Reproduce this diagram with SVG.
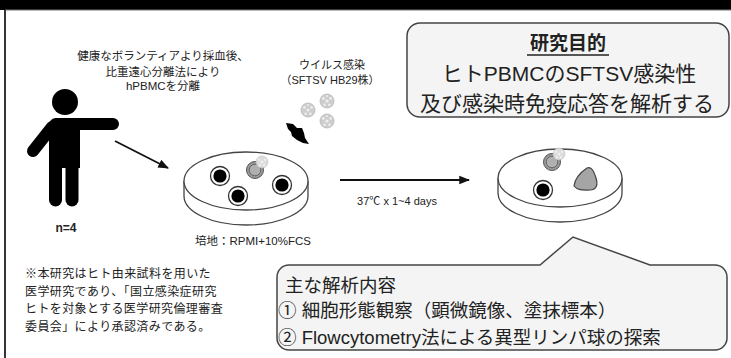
<svg xmlns="http://www.w3.org/2000/svg" width="731" height="358" viewBox="0 0 731 358">
  <style>
    .jp { font-family: "Liberation Sans", "Noto Sans CJK JP", sans-serif; fill: #222; }
    .sm { font-size: 11.5px; }
    .dish { fill: #ffffff; stroke: #444; stroke-width: 1.3; }
    .box { fill: #f4f4f4; stroke: #444; stroke-width: 1.5; }
    .conn { stroke: #111; stroke-width: 1.8; fill: none; }
  </style>
  <defs>
    <marker id="arrow" viewBox="0 0 10 10" refX="9" refY="5" markerWidth="6" markerHeight="6" orient="auto">
      <path d="M0,1 L10,5 L0,9 Z" fill="#111"/>
    </marker>
    <!-- virus particle -->
    <g id="virus">
      <circle r="7" fill="#cdcdcd" stroke="#b8b8b8" stroke-width="0.8"/>
      <circle r="1.6" fill="#eee"/>
      <circle cx="-3.6" cy="-2.6" r="1.3" fill="#eee"/>
      <circle cx="3.6" cy="-2.6" r="1.3" fill="#eee"/>
      <circle cx="-2.4" cy="3.8" r="1.3" fill="#eee"/>
      <circle cx="2.4" cy="3.8" r="1.3" fill="#eee"/>
      <circle cx="0" cy="-5" r="1" fill="#eee"/>
    </g>
    <!-- healthy lymphocyte -->
    <g id="cell">
      <circle r="9.5" fill="#fff" stroke="#333" stroke-width="1.3"/>
      <circle r="6.6" fill="#000"/>
    </g>
    <!-- infected cell with attached virus -->
    <g id="infected">
      <circle r="8.5" fill="#9a9a9a" stroke="#555" stroke-width="1"/>
      <circle r="5.8" fill="#b0b0b0" stroke="#666" stroke-width="1"/>
      <g transform="translate(7,-8) scale(0.85)">
        <circle r="7" fill="#dcdcdc" stroke="#c4c4c4" stroke-width="0.8"/>
        <circle r="1.6" fill="#f2f2f2"/>
        <circle cx="-3.6" cy="-2.6" r="1.3" fill="#f2f2f2"/>
        <circle cx="3.6" cy="-2.6" r="1.3" fill="#f2f2f2"/>
        <circle cx="-2.4" cy="3.8" r="1.3" fill="#f2f2f2"/>
        <circle cx="2.4" cy="3.8" r="1.3" fill="#f2f2f2"/>
      </g>
    </g>
  </defs>

  <rect width="731" height="358" fill="#ffffff"/>

  <!-- header band and frame -->
  <rect x="0" y="0" width="731" height="10" fill="#000"/>
  <line x1="5" y1="10" x2="731" y2="10" stroke="#777" stroke-width="1"/>
  <line x1="5" y1="10" x2="5" y2="358" stroke="#333" stroke-width="2"/>

  <!-- donor -->
  <g id="donor">
    <circle cx="65" cy="102" r="13" fill="#000"/>
    <path d="M56,118 H113 a6,6 0 0 1 0,12 H80 V168 H49 V125 a7,7 0 0 1 7,-7 Z" fill="#000"/>
    <line x1="52" y1="127" x2="33" y2="151" stroke="#000" stroke-width="12" stroke-linecap="round"/>
    <line x1="55.5" y1="160" x2="55.5" y2="200" stroke="#000" stroke-width="13" stroke-linecap="round"/>
    <line x1="72" y1="160" x2="72" y2="200" stroke="#000" stroke-width="13" stroke-linecap="round"/>
    <text class="jp" x="66" y="232" font-size="12" font-weight="bold" text-anchor="middle">n=4</text>
  </g>

  <!-- isolation note -->
  <g id="isolation-label" class="jp sm" text-anchor="middle">
    <text x="163" y="60">健康なボランティアより採血後、</text>
    <text x="163" y="76">比重遠心分離法により</text>
    <text x="163" y="90">hPBMCを分離</text>
  </g>

  <!-- virus inoculum -->
  <g id="virus-source">
    <text class="jp" x="332" y="69" font-size="11" text-anchor="middle">ウイルス感染</text>
    <text class="jp" x="330" y="84" font-size="11" text-anchor="middle">（SFTSV HB29株）</text>
    <use href="#virus" x="308" y="110"/>
    <use href="#virus" x="327" y="101"/>
    <use href="#virus" x="327" y="121"/>
    <path d="M286,123 L293,124 L297,128 L302,128 L304,133 L305,138 L309,144 L303,143 L297,140 L292,136 L291,132 L288,129 Z" fill="#000"/>
  </g>

  <!-- culture dish, day 0 -->
  <g id="dish-start">
    <path class="dish" d="M184,181 v15 a62,29 0 0 0 124,0 v-15"/>
    <ellipse class="dish" cx="246" cy="181" rx="62" ry="29"/>
    <use href="#cell" x="220" y="176"/>
    <use href="#cell" x="238" y="196"/>
    <use href="#cell" x="282" y="185"/>
    <use href="#infected" x="255" y="170"/>
    <text class="jp sm" x="253" y="245" text-anchor="middle">培地：RPMI+10%FCS</text>
  </g>

  <!-- culture dish, after incubation -->
  <g id="dish-end">
    <path class="dish" d="M498,178 v15 a62,29 0 0 0 124,0 v-15"/>
    <ellipse class="dish" cx="560" cy="178" rx="62" ry="29"/>
    <use href="#infected" x="552" y="162"/>
    <use href="#cell" x="543" y="190"/>
    <path d="M574,186 C575,178 581,172 587,168 C592,166 594,172 596,178 C598,184 597,190 590,190 C584,190 578,191 574,186 Z" fill="#a5a5a5" stroke="#444" stroke-width="1.2"/>
  </g>

  <!-- connectors -->
  <g id="connectors">
    <line class="conn" x1="115" y1="141" x2="168" y2="168" marker-end="url(#arrow)"/>
    <line class="conn" x1="340" y1="180" x2="469" y2="180" marker-end="url(#arrow)"/>
    <text class="jp" x="397" y="205" font-size="11" text-anchor="middle">37℃ x 1~4 days</text>
  </g>

  <!-- study aim -->
  <g id="aim">
    <rect class="box" x="407" y="23" width="322" height="94" rx="13"/>
    <text class="jp" x="568" y="50" font-size="19" font-weight="bold" text-anchor="middle">研究目的</text>
    <line x1="527" y1="55" x2="609" y2="55" stroke="#222" stroke-width="1.5"/>
    <text class="jp" x="569" y="81" font-size="21" text-anchor="middle">ヒトPBMCのSFTSV感染性</text>
    <text class="jp" x="567" y="111" font-size="21" text-anchor="middle">及び感染時免疫応答を解析する</text>
  </g>

  <!-- ethics note -->
  <g id="ethics" class="jp" font-size="12" letter-spacing="0.4">
    <text x="25" y="278">※本研究はヒト由来試料を用いた</text>
    <text x="25" y="296">医学研究であり、「国立感染症研究</text>
    <text x="25" y="313">ヒトを対象とする医学研究倫理審査</text>
    <text x="25" y="331">委員会」により承認済みである。</text>
  </g>

  <!-- analysis callout -->
  <g id="analysis">
    <path class="box" d="M289,265 H540 L573,237 L650,265 H715 a12,12 0 0 1 12,12 V338 a12,12 0 0 1 -12,12 H289 a12,12 0 0 1 -12,-12 V277 a12,12 0 0 1 12,-12 Z"/>
    <text class="jp" x="285" y="292" font-size="18.5">主な解析内容</text>
    <text class="jp" x="278" y="317" font-size="18.5">① 細胞形態観察（顕微鏡像、塗抹標本）</text>
    <text class="jp" x="278" y="344" font-size="18.5">② Flowcytometry法による異型リンパ球の探索</text>
  </g>
</svg>
